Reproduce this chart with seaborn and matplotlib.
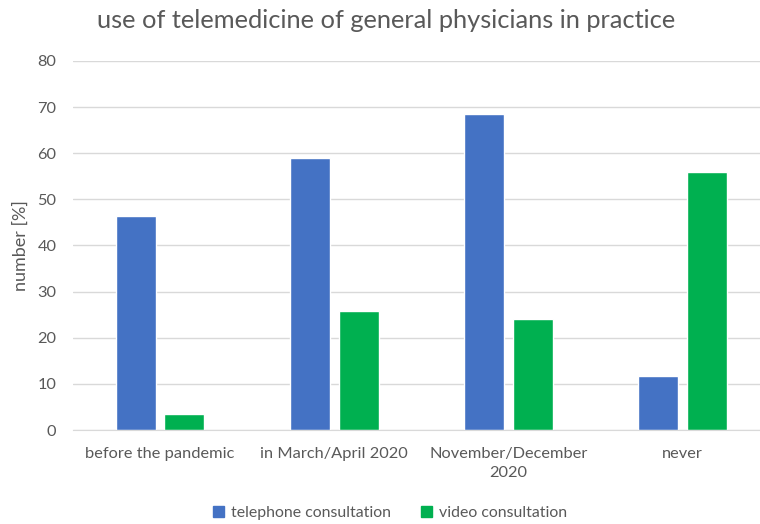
import matplotlib
matplotlib.use('Agg')
import matplotlib.pyplot as plt
import pandas as pd
import seaborn as sns

# data
categories = ['before the pandemic', 'in March/April 2020', 'November/December\n2020', 'never']
telephone = [46.4, 59.0, 68.5, 11.7]
video = [3.4, 25.8, 24.1, 55.9]
series_names = ['telephone consultation', 'video consultation']
yticks = [0, 10, 20, 30, 40, 50, 60, 70, 80]

df = pd.DataFrame({
    'category': categories * 2,
    'value': telephone + video,
    'series': [series_names[0]] * 4 + [series_names[1]] * 4,
})

sns.set_style('white')
plt.rcParams['font.family'] = ['Lato', 'DejaVu Sans']
grey = '#595959'

fig = plt.figure(figsize=(7.6, 5.24), dpi=100)
ax = fig.add_axes([73 / 760, 1 - 430 / 524, (760 - 73) / 760, (430 - 61) / 524])

sns.barplot(data=df, x='category', y='value', hue='series', ax=ax,
            palette=['#4472C4', '#00B050'], width=0.56, gap=0.18,
            saturation=1, legend=False)

ax.set_ylim(0, 80)
ax.set_xlim(-0.5, -0.5 + 687 / 174.2)
ax.set_yticks(yticks)
ax.yaxis.grid(True, color='#D9D9D9', linewidth=1)
ax.set_axisbelow(True)
for s in ['top', 'right', 'left']:
    ax.spines[s].set_visible(False)
ax.spines['bottom'].set_color('#D9D9D9')
ax.tick_params(axis='both', length=0, colors=grey, labelsize=11.8)
ax.tick_params(axis='y', pad=12)
ax.tick_params(axis='x', pad=12)
for lbl in ax.get_xticklabels():
    lbl.set_linespacing(1.45)
ax.set_xlabel('')
ax.set_ylabel('number [%]', color=grey, fontsize=13, labelpad=6)

fig.text(97 / 760, 1 - 21 / 524, 'use of telemedicine of general physicians in practice',
         color=grey, fontsize=18.3, va='center', ha='left')

handles = [plt.Rectangle((0, 0), 1, 1, color=c) for c in ['#4472C4', '#00B050']]
fig.legend(handles, series_names, loc='center', bbox_to_anchor=(0.513, 1 - 513 / 524),
           ncol=2, frameon=False, fontsize=11.4, handlelength=0.7, handleheight=0.7,
           columnspacing=1.9, handletextpad=0.45, labelcolor=grey)

fig.savefig('out.png', dpi=100)
